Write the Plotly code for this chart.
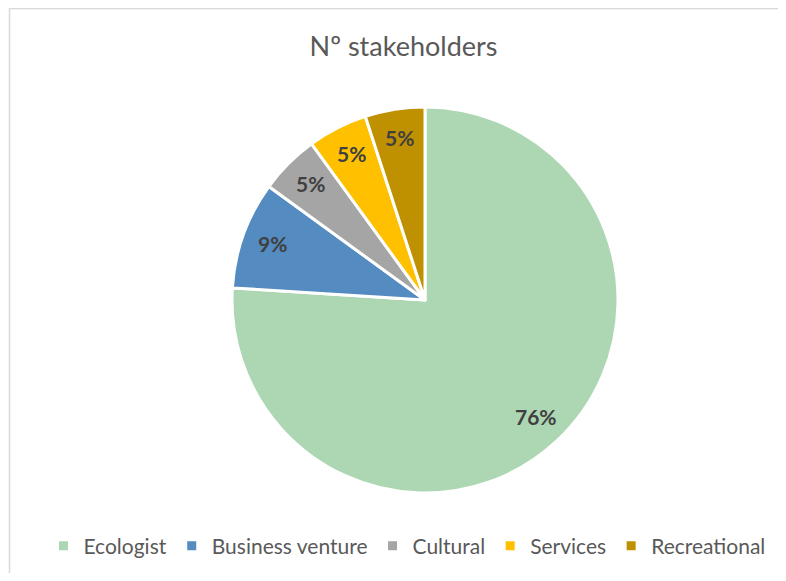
import math
import plotly.graph_objects as go

categories = ["Ecologist", "Business venture", "Cultural", "Services", "Recreational"]
values = [76, 9, 5, 5, 5]
colors = ["#ADD6B3", "#548BC0", "#A5A5A5", "#FFC000", "#BF9000"]

# page has an 8px body margin, so the figure is drawn 8px in from the top-left
W, H = 778, 565
cx, cy, r = 417, 292, 193
label_r = 0.84

fig = go.Figure(go.Pie(
    labels=categories,
    values=values,
    sort=False,
    direction="clockwise",
    rotation=0,
    marker=dict(colors=colors, line=dict(color="white", width=3)),
    textinfo="none",
    domain=dict(x=[(cx - r) / W, (cx + r) / W], y=[(H - cy - r) / H, (H - cy + r) / H]),
    hoverinfo="label+percent",
))

total = sum(values)
cum = 0
annotations = []
for v in values:
    theta = 2 * math.pi * (cum + v / 2) / total
    cum += v
    px = cx + label_r * r * math.sin(theta)
    py = cy - label_r * r * math.cos(theta) - 2
    annotations.append(dict(
        x=px / W, y=1 - py / H, xref="paper", yref="paper",
        text=f"{round(100 * v / total)}%", showarrow=False,
        xanchor="center", yanchor="middle",
        font=dict(family="Lato", size=21, color="#404040", weight="bold"),
    ))

fig.update_layout(
    width=W, height=H,
    margin=dict(l=0, r=0, t=0, b=0),
    paper_bgcolor="white",
    plot_bgcolor="white",
    title=dict(text="Nº stakeholders", x=395.5 / W, xanchor="center", y=1 - 39 / H, yanchor="middle",
               font=dict(family="Lato", size=27, color="#595959")),
    showlegend=True,
    legend=dict(orientation="h", x=399 / W, xanchor="center", y=1 - 538 / H, yanchor="middle",
                font=dict(family="Lato", size=21, color="#595959"), traceorder="normal",
                itemwidth=30, tracegroupgap=0),
    annotations=annotations,
    shapes=[
        dict(type="path", xref="paper", yref="paper",
             path=f"M {1.5 / W},0 L {1.5 / W},{1 - 0.5 / H} L 1.2,{1 - 0.5 / H}",
             line=dict(color="#D9D9D9", width=1.5), fillcolor="rgba(0,0,0,0)"),
    ],
)

fig.write_html("out.html")
